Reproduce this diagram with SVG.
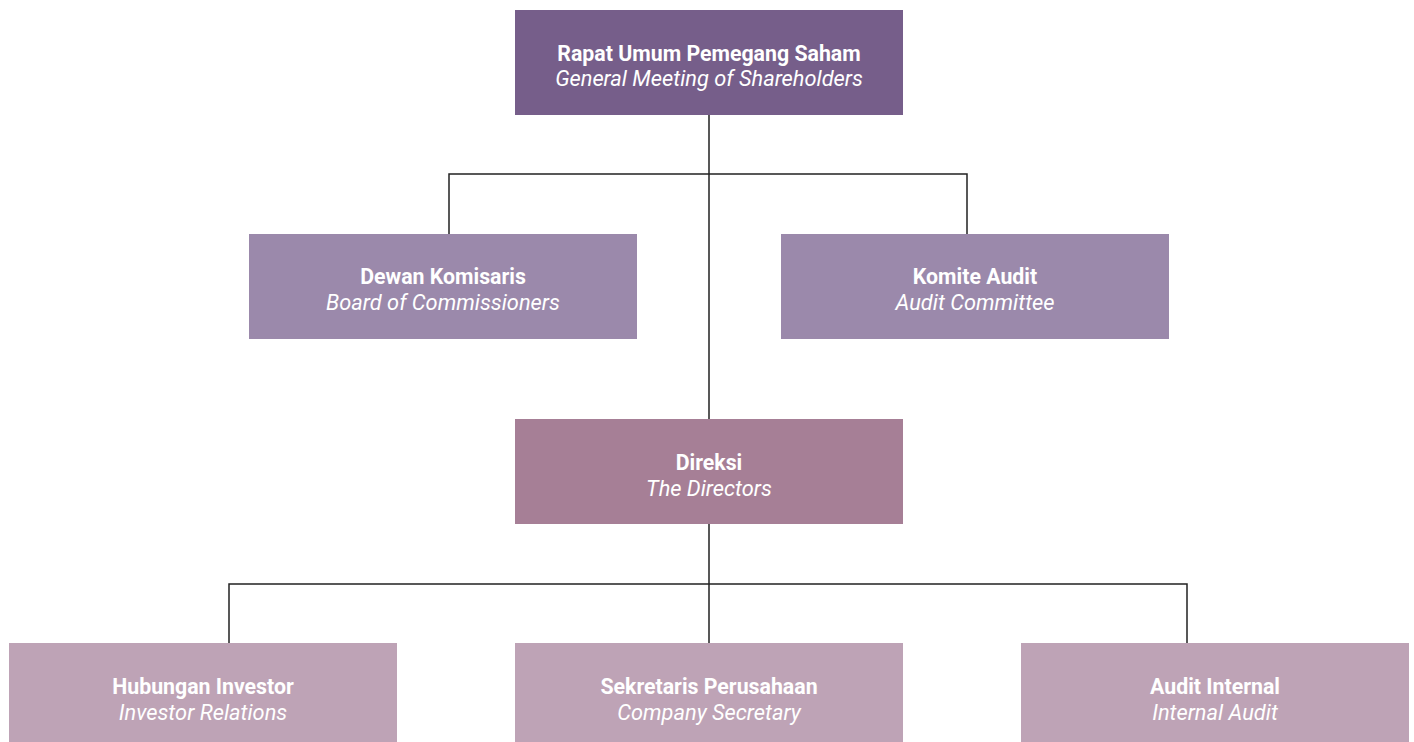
<svg xmlns="http://www.w3.org/2000/svg" width="1414" height="742" viewBox="0 0 1414 742">
<style>
.t1{font-family:Roboto,"Liberation Sans",sans-serif;font-weight:bold;font-size:21.3px;fill:#fff;text-anchor:middle}
.t2{font-family:Roboto,"Liberation Sans",sans-serif;font-style:italic;font-size:21.8px;fill:#fff;text-anchor:middle}
.c{stroke:#222;stroke-width:1.5;fill:none}
</style>
<rect width="1414" height="742" fill="#fff"/>
<g id="connectors">
<path class="c" d="M709 115V419M449 234V174H967V234M709 524V643M229 643V584H1187V643"/>
</g>
<g id="rups"><rect x="515" y="10" width="388" height="105" fill="#765E8A"/><text class="t1" x="709" y="61">Rapat Umum Pemegang Saham</text><text class="t2" x="709" y="86">General Meeting of Shareholders</text></g>
<g id="dewan"><rect x="249" y="234" width="388" height="105" fill="#9B89AB"/><text class="t1" x="443" y="284">Dewan Komisaris</text><text class="t2" x="443" y="310">Board of Commissioners</text></g>
<g id="komite"><rect x="781" y="234" width="388" height="105" fill="#9B89AB"/><text class="t1" x="975" y="284">Komite Audit</text><text class="t2" x="975" y="310">Audit Committee</text></g>
<g id="direksi"><rect x="515" y="419" width="388" height="105" fill="#A67F96"/><text class="t1" x="709" y="470">Direksi</text><text class="t2" x="709" y="496">The Directors</text></g>
<g id="hubungan"><rect x="9" y="643" width="388" height="99" fill="#BEA3B6"/><text class="t1" x="203" y="694">Hubungan Investor</text><text class="t2" x="203" y="720">Investor Relations</text></g>
<g id="sekretaris"><rect x="515" y="643" width="388" height="99" fill="#BEA3B6"/><text class="t1" x="709" y="694">Sekretaris Perusahaan</text><text class="t2" x="709" y="720">Company Secretary</text></g>
<g id="audit"><rect x="1021" y="643" width="388" height="99" fill="#BEA3B6"/><text class="t1" x="1215" y="694">Audit Internal</text><text class="t2" x="1215" y="720">Internal Audit</text></g>
</svg>
